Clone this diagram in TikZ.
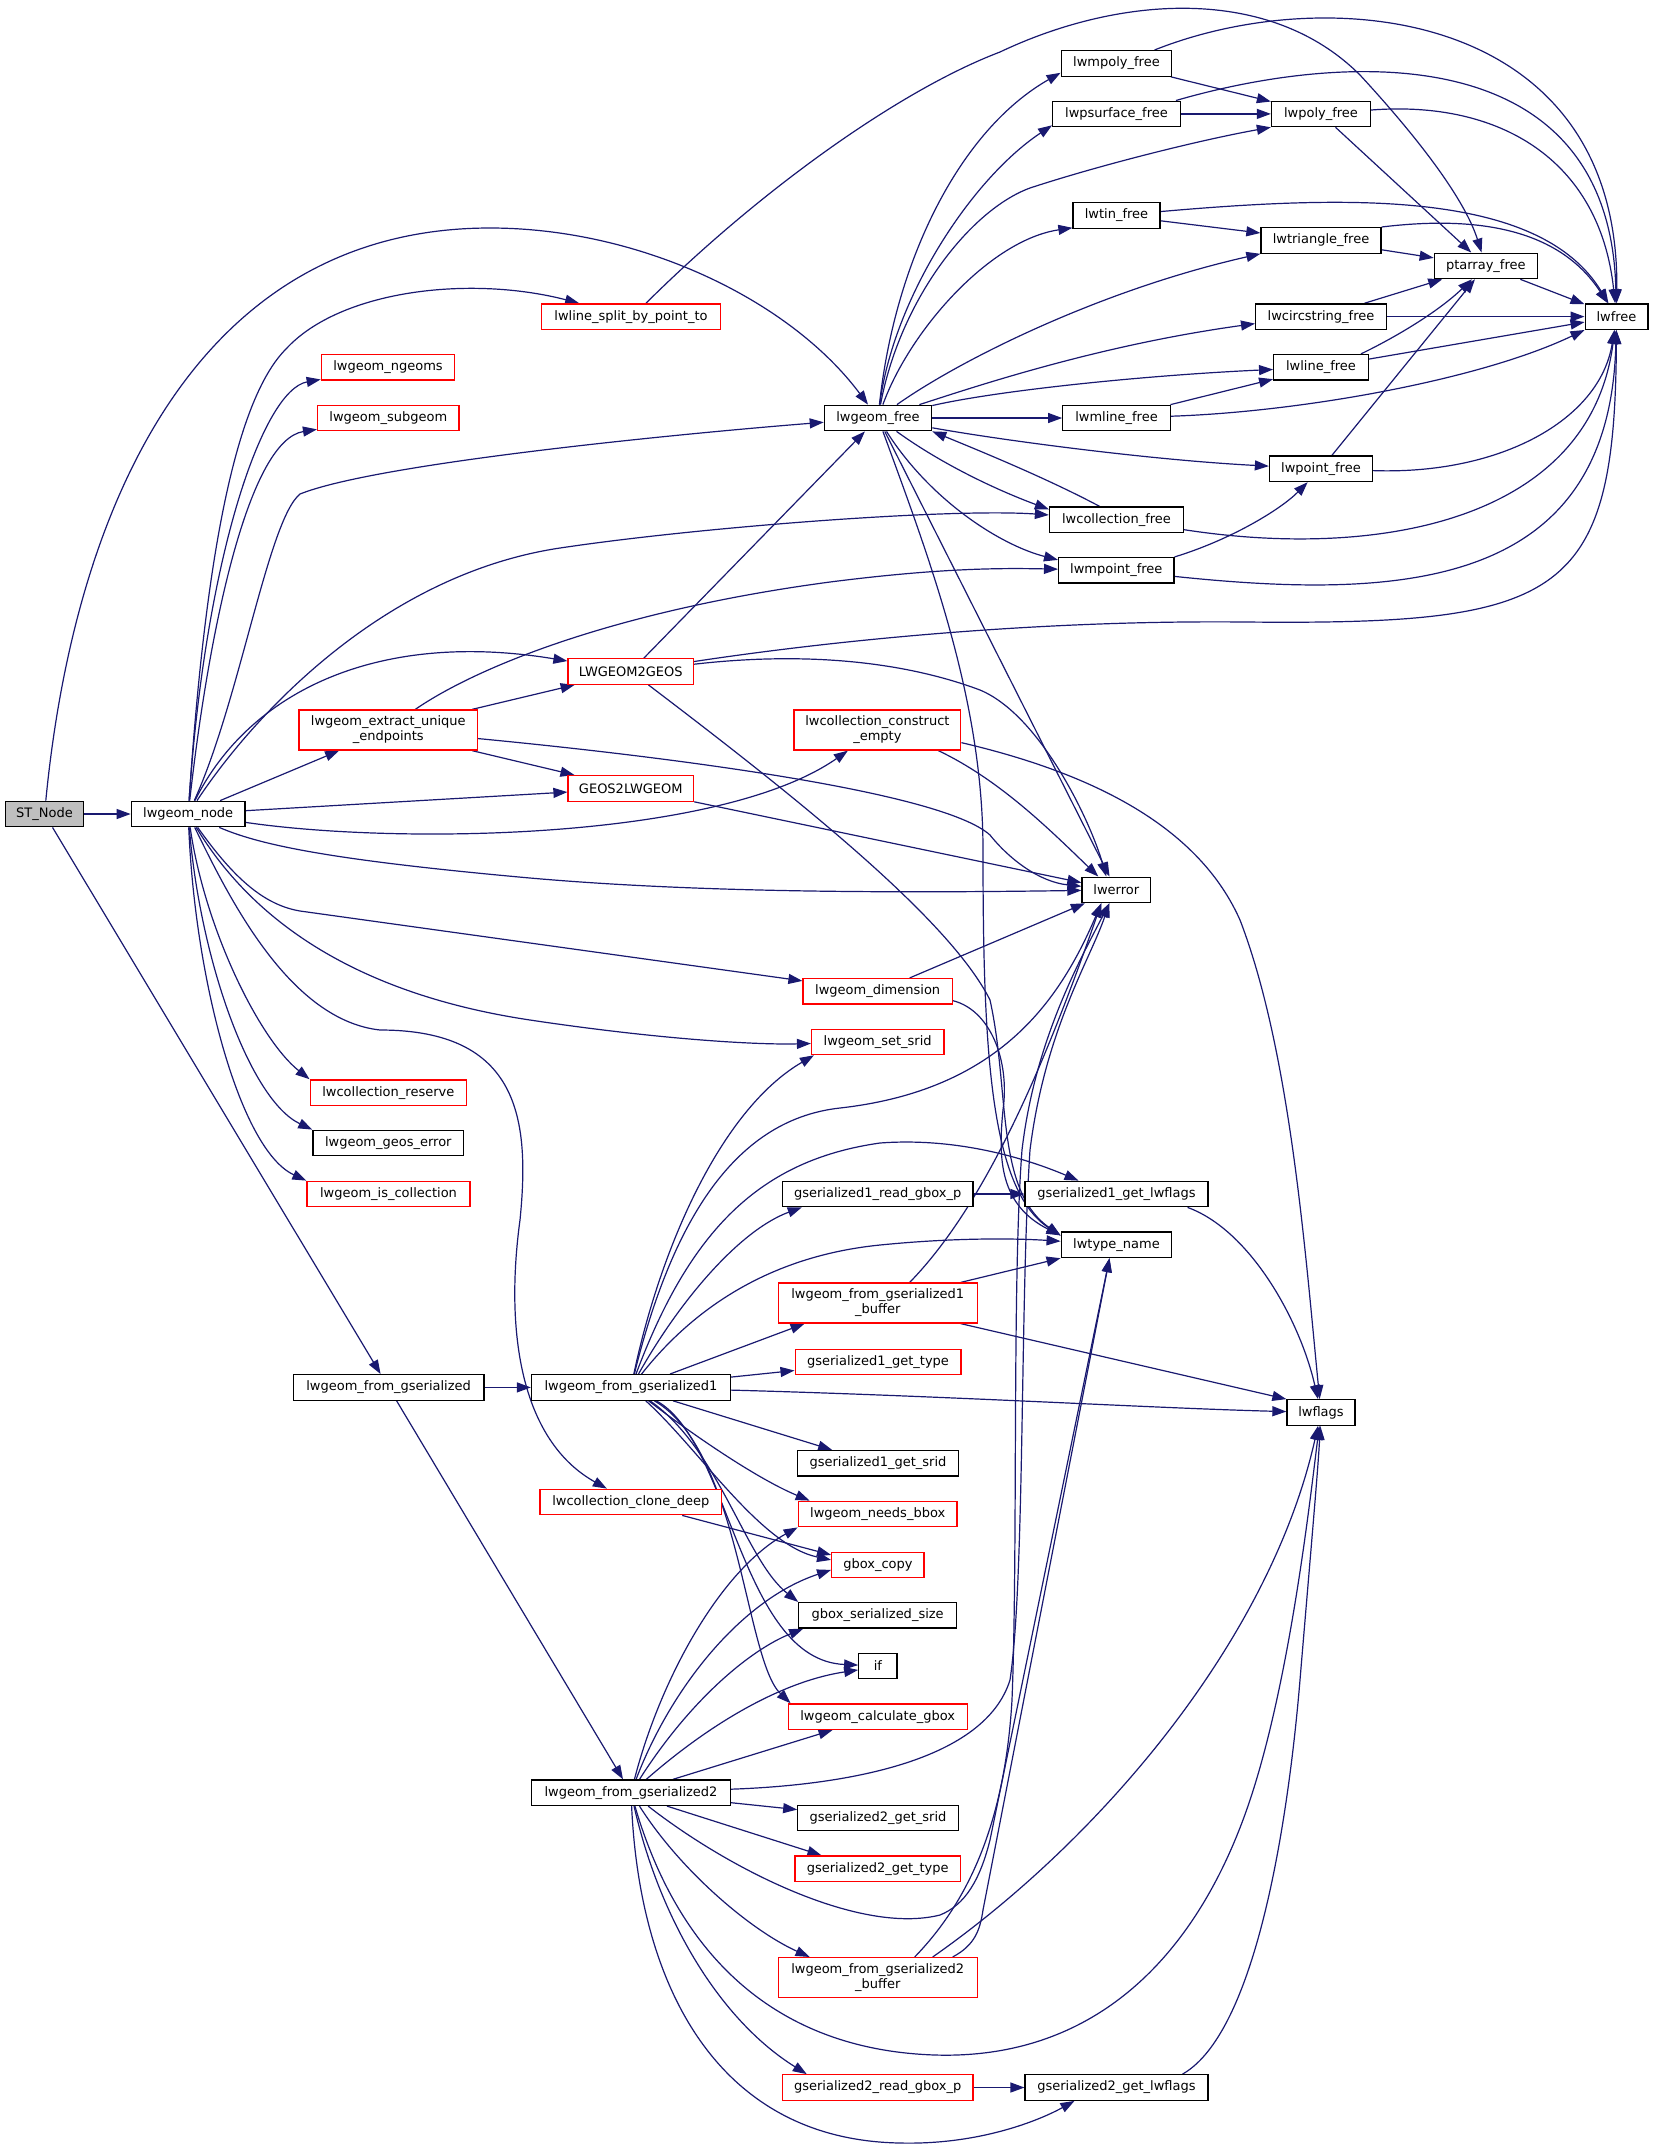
\documentclass[tikz,border=0pt]{standalone}
\usepackage{fontspec}
\setmainfont{DejaVu Sans}
\usetikzlibrary{arrows.meta,calc}
\pgfdeclarelayer{bg}
\pgfsetlayers{bg,main}
\definecolor{edgec}{RGB}{25,25,112}
\definecolor{grayfill}{RGB}{191,191,191}
\tikzset{
  nbox/.style={draw=black, fill=white, line width=0.65pt, inner sep=0pt, align=center,
    font=\fontsize{6.5pt}{7.5pt}\selectfont, minimum height=12.75pt},
  rbox/.style={nbox, draw=red},
  grbox/.style={nbox, fill=grayfill},
  edg/.style={draw=edgec, line width=0.6pt, line join=round, -{Triangle[length=7pt,width=5pt]}},
}
\begin{document}
\begin{tikzpicture}[x=0.5pt,y=-0.5pt]
\useasboundingbox (0,0) rectangle (1653,2149);
% nodes
\node[grbox, minimum width=39pt] (STNode) at (44.5,814) {ST\_Node};
\node[nbox, minimum width=56.9pt] (lwnode) at (188.2,814) {lwgeom\_node};
\node[rbox, minimum width=89.5pt] (split) at (631,316.6) {lwline\_split\_by\_point\_to};
\node[rbox, minimum width=66.7pt] (ngeoms) at (388,367.3) {lwgeom\_ngeoms};
\node[rbox, minimum width=70.7pt] (subgeom) at (388.3,418) {lwgeom\_subgeom};
\node[nbox, minimum width=53.65pt] (free) at (878,418) {lwgeom\_free};
\node[nbox, minimum width=67pt] (collfree) at (1116.5,519.7) {lwcollection\_free};
\node[nbox, minimum width=57.65pt] (mpointfree) at (1116.3,570.3) {lwmpoint\_free};
\node[rbox, minimum width=62.75pt] (l2g) at (630.8,671.5) {LWGEOM2GEOS};
\node[rbox, minimum width=89.2pt, minimum height=20pt] (extract) at (388.3,730) {lwgeom\_extract\_unique\\\_endpoints};
\node[rbox, minimum width=62.75pt] (g2l) at (630.8,788.4) {GEOS2LWGEOM};
\node[rbox, minimum width=83.4pt, minimum height=20pt] (cempty) at (877.4,730) {lwcollection\_construct\\\_empty};
\node[nbox, minimum width=34.25pt] (lwerror) at (1116.3,889.9) {lwerror};
\node[rbox, minimum width=74.65pt] (dim) at (877.7,991.3) {lwgeom\_dimension};
\node[rbox, minimum width=66.15pt] (setsrid) at (877.7,1041.9) {lwgeom\_set\_srid};
\node[rbox, minimum width=78.1pt] (reserve) at (388.3,1092.6) {lwcollection\_reserve};
\node[nbox, minimum width=75.4pt] (geoserr) at (388.3,1143) {lwgeom\_geos\_error};
\node[rbox, minimum width=81.5pt] (iscoll) at (388.5,1194) {lwgeom\_is\_collection};
\node[nbox, minimum width=95.3pt] (g1read) at (877.7,1194) {gserialized1\_read\_gbox\_p};
\node[nbox, minimum width=91.4pt] (g1flags) at (1116.5,1194) {gserialized1\_get\_lwflags};
\node[nbox, minimum width=55.3pt] (typename) at (1116.5,1244.8) {lwtype\_name};
\node[rbox, minimum width=99.5pt, minimum height=20pt] (g1buf) at (877.7,1303) {lwgeom\_from\_gserialized1\\\_buffer};
\node[rbox, minimum width=82.85pt] (g1type) at (878,1361.9) {gserialized1\_get\_type};
\node[nbox, minimum width=95.3pt] (fromgs) at (388.6,1387.4) {lwgeom\_from\_gserialized};
\node[nbox, minimum width=99.5pt] (gs1) at (631,1387.4) {lwgeom\_from\_gserialized1};
\node[nbox, minimum width=34pt] (lwflags) at (1321,1412.5) {lwflags};
\node[nbox, minimum width=80.2pt] (g1srid) at (878,1463.3) {gserialized1\_get\_srid};
\node[rbox, minimum width=90.75pt] (clone) at (630.8,1502) {lwcollection\_clone\_deep};
\node[rbox, minimum width=79.4pt] (needsbbox) at (877.7,1514) {lwgeom\_needs\_bbox};
\node[rbox, minimum width=46.2pt] (gboxcopy) at (877.9,1564.9) {gbox\_copy};
\node[nbox, minimum width=78.9pt] (gboxsize) at (877.7,1615.3) {gbox\_serialized\_size};
\node[nbox, minimum width=19.1pt] (ifn) at (877.9,1665.9) {if};
\node[rbox, minimum width=89.5pt] (calcgbox) at (877.7,1716.6) {lwgeom\_calculate\_gbox};
\node[nbox, minimum width=99.5pt] (gs2) at (631,1792.7) {lwgeom\_from\_gserialized2};
\node[nbox, minimum width=80.2pt] (g2srid) at (878,1818) {gserialized2\_get\_srid};
\node[rbox, minimum width=82.6pt] (g2type) at (877.7,1868.7) {gserialized2\_get\_type};
\node[rbox, minimum width=99.5pt, minimum height=20pt] (g2buf) at (877.7,1977.6) {lwgeom\_from\_gserialized2\\\_buffer};
\node[rbox, minimum width=95.3pt] (g2read) at (877.7,2087.5) {gserialized2\_read\_gbox\_p};
\node[nbox, minimum width=91.4pt] (g2flags) at (1116.5,2087.5) {gserialized2\_get\_lwflags};
\node[nbox, minimum width=55.3pt] (mpolyfree) at (1116.5,63.4) {lwmpoly\_free};
\node[nbox, minimum width=63.8pt] (psurffree) at (1116.5,113.9) {lwpsurface\_free};
\node[nbox, minimum width=49.5pt] (polyfree) at (1321,113.9) {lwpoly\_free};
\node[nbox, minimum width=43.5pt] (tinfree) at (1116.5,215.4) {lwtin\_free};
\node[nbox, minimum width=60pt] (trifree) at (1321,240.4) {lwtriangle\_free};
\node[nbox, minimum width=51.5pt] (ptfree) at (1485.8,265.9) {ptarray\_free};
\node[nbox, minimum width=65.35pt] (circfree) at (1321,316.6) {lwcircstring\_free};
\node[nbox, minimum width=31.35pt] (lwfree) at (1616.5,316.6) {lwfree};
\node[nbox, minimum width=47.3pt] (linefree) at (1321,367.3) {lwline\_free};
\node[nbox, minimum width=53.7pt] (mlinefree) at (1116.5,418) {lwmline\_free};
\node[nbox, minimum width=51.5pt] (pointfree) at (1321,468.8) {lwpoint\_free};

\begin{pgfonlayer}{bg}
\fill[white] (0,0) rectangle (1653,2149);
% ST_Node
\draw[edg] (STNode) -- (lwnode);
\draw[edg] (STNode) .. controls (75,500) and (200,228) .. (490,228) .. controls (640,228) and (790,300) .. (free);
\draw[edg] (STNode) -- (fromgs);
% lwgeom_node
\draw[edg] (lwnode) .. controls (205,560) and (235,400) .. (286,349) .. controls (340,290) and (470,275) .. (split);
\draw[edg] (lwnode) .. controls (205,560) and (262,390) .. (ngeoms);
\draw[edg] (lwnode) .. controls (210,620) and (250,440) .. (subgeom);
\draw[edg] (lwnode) .. controls (240,700) and (268,520) .. (300,494) .. controls (380,462) and (700,432) .. (free);
\draw[edg] (lwnode) .. controls (250,720) and (380,575) .. (560,548) .. controls (700,527) and (950,508) .. (collfree);
\draw[edg] (lwnode) .. controls (250,690) and (380,630) .. (l2g);
\draw[edg] (lwnode) -- (extract);
\draw[edg] (lwnode) -- (g2l);
\draw[edg] (lwnode) .. controls (400,845) and (720,840) .. (cempty);
\draw[edg] (lwnode) .. controls (260,845) and (330,860) .. (530,878) .. controls (700,893) and (900,893) .. (lwerror);
\draw[edg] (lwnode) .. controls (235,880) and (265,905) .. (300,911) -- (dim);
\draw[edg] (lwnode) .. controls (240,900) and (330,990) .. (530,1020) .. controls (650,1038) and (750,1045) .. (setsrid);
\draw[edg] (lwnode) .. controls (230,900) and (290,1020) .. (380,1030) .. controls (520,1030) and (530,1120) .. (520,1220) .. controls (505,1330) and (520,1440) .. (clone);
\draw[edg] (lwnode) .. controls (205,930) and (260,1040) .. (reserve.north west);
\draw[edg] (lwnode) .. controls (200,960) and (250,1100) .. (geoserr.north west);
\draw[edg] (lwnode) .. controls (195,980) and (240,1150) .. (iscoll.north west);
% extract_unique_endpoints
\draw[edg] ($(extract.north east)+(-6,0)$) -- (l2g);
\draw[edg] ($(extract.south east)+(-6,0)$) -- (g2l);
\draw[edg] (extract) .. controls (650,755) and (940,790) .. (990,835) .. controls (1010,860) and (1040,882) .. (lwerror);
\draw[edg] ($(extract.north)+(27,0)$) .. controls (480,665) and (620,610) .. (830,582) .. controls (940,568) and (1000,568) .. (mpointfree);
% LWGEOM2GEOS
\draw[edg] (l2g) -- (free);
\draw[edg] ($(l2g.east)+(0,-10)$) .. controls (850,638) and (1050,620) .. (1245,622) .. controls (1560,625) and (1615,600) .. (lwfree);
\draw[edg] (l2g) .. controls (800,652) and (900,660) .. (980,690) .. controls (1040,715) and (1090,820) .. ($(lwerror.north)+(-10,0)$);
\draw[edg] (l2g) .. controls (800,800) and (950,920) .. (990,1000) .. controls (1010,1090) and (995,1190) .. ($(typename.north west)+(0,4)$);
% GEOS2LWGEOM
\draw[edg] (g2l.south east) -- (lwerror);
% construct_empty
\draw[edg] ($(cempty.south)+(61,0)$) .. controls (1000,780) and (1050,830) .. ($(lwerror.north)+(-18,0)$);
\draw[edg] ($(cempty.south east)+(0,-8)$) .. controls (1100,775) and (1200,830) .. (1240,920) .. controls (1290,1050) and (1305,1250) .. (lwflags);
% lwline_split_by_point_to
\draw[edg] ($(split.north)+(15,0)$) .. controls (760,190) and (900,90) .. (1000,52) .. controls (1120,-5) and (1270,-15) .. (1360,75) .. controls (1420,140) and (1465,200) .. (ptfree);
% lwgeom_free
\draw[edg] (free) .. controls (895,260) and (960,130) .. ($(mpolyfree.south west)+(0,-4)$);
\draw[edg] (free) .. controls (893,300) and (970,180) .. ($(psurffree.south west)+(0,-2)$);
\draw[edg] (free) .. controls (900,300) and (970,210) .. (1030,188) .. controls (1100,165) and (1200,140) .. (polyfree.south west);
\draw[edg] (free) .. controls (910,330) and (990,240) .. ($(tinfree.south west)+(0,-1)$);
\draw[edg] (free) .. controls (960,360) and (1100,290) .. (trifree.south west);
\draw[edg] (free) .. controls (980,385) and (1100,345) .. ($(circfree.west)+(0,7)$);
\draw[edg] (free) .. controls (1000,390) and (1150,375) .. (linefree);
\draw[edg] (free) -- (mlinefree);
\draw[edg] (free) .. controls (1000,440) and (1150,460) .. (pointfree);
\draw[edg] (free) .. controls (950,470) and (1010,495) .. ($(collfree.north west)+(0,3)$);
\draw[edg] (free) .. controls (930,500) and (1000,545) .. ($(mpointfree.north west)+(0,3)$);
\draw[edg] (free) -- (lwerror);
\draw[edg] (free) .. controls (930,560) and (983,700) .. (983,850) .. controls (983,1050) and (990,1190) .. ($(typename.north west)+(0,4)$);
% lwcollection_free
\draw[edg] ($(collfree.north)+(-17,0)$) .. controls (1050,480) and (990,455) .. (free.south east);
\draw[edg] ($(collfree.east)+(0,10)$) .. controls (1380,560) and (1590,520) .. (lwfree);
% lwmpoly_free
\draw[edg] (mpolyfree) -- (polyfree);
\draw[edg] ($(mpolyfree.north)+(38,0)$) .. controls (1330,-20) and (1620,10) .. (lwfree);
% lwpsurface_free
\draw[edg] (psurffree) -- (polyfree);
\draw[edg] ($(psurffree.north east)+(-5,0)$) .. controls (1350,50) and (1610,40) .. (lwfree);
% lwpoly_free
\draw[edg] (polyfree) -- (ptfree);
\draw[edg] (polyfree) .. controls (1500,100) and (1600,160) .. (lwfree);
% lwtin_free
\draw[edg] (tinfree) -- (trifree);
\draw[edg] (tinfree) .. controls (1350,195) and (1540,190) .. (lwfree);
% lwtriangle_free
\draw[edg] (trifree) -- (ptfree);
\draw[edg] (trifree.north east) .. controls (1480,215) and (1560,230) .. (lwfree);
% ptarray_free
\draw[edg] (ptfree) -- (lwfree);
% lwcircstring_free
\draw[edg] (circfree) -- (ptfree);
\draw[edg] (circfree) -- (lwfree);
% lwline_free
\draw[edg] ($(linefree.north east)+(-8,0)$) .. controls (1400,335) and (1440,310) .. (ptfree);
\draw[edg] (linefree) -- (lwfree);
% lwmline_free
\draw[edg] (mlinefree) -- (linefree);
\draw[edg] (mlinefree) .. controls (1300,412) and (1480,380) .. (lwfree.south west);
% lwpoint_free
\draw[edg] (pointfree) -- (ptfree);
\draw[edg] (pointfree) .. controls (1500,475) and (1600,420) .. (lwfree);
% lwmpoint_free
\draw[edg] (mpointfree.north east) .. controls (1230,540) and (1280,510) .. (pointfree);
\draw[edg] (mpointfree) .. controls (1400,600) and (1610,590) .. (lwfree);
% lwgeom_dimension
\draw[edg] ($(dim.north)+(32,0)$) -- (lwerror);
\draw[edg] ($(dim.south east)+(0,-4)$) .. controls (990,1010) and (1010,1060) .. (1003,1110) .. controls (998,1160) and (1000,1205) .. ($(typename.north west)+(0,4)$);
% lwgeom_from_gserialized
\draw[edg] (fromgs) -- (gs1);
\draw[edg] (fromgs) -- (gs2);
% lwgeom_from_gserialized1
\draw[edg] (gs1) .. controls (660,1250) and (720,1110) .. ($(setsrid.south west)+(3,0)$);
\draw[edg] (gs1) .. controls (670,1230) and (730,1120) .. (840,1108) .. controls (1000,1090) and (1060,1000) .. ($(lwerror.south)+(-15,0)$);
\draw[edg] (gs1) .. controls (690,1230) and (760,1160) .. (880,1143) .. controls (960,1137) and (1030,1160) .. ($(g1flags.north)+(-38,0)$);
\draw[edg] (gs1) .. controls (680,1300) and (740,1230) .. ($(g1read.south west)+(20,0)$);
\draw[edg] (gs1) .. controls (700,1300) and (780,1255) .. (880,1245) .. controls (950,1238) and (1010,1238) .. (typename);
\draw[edg] ($(gs1.north)+(39,0)$) -- ($(g1buf.south west)+(27,0)$);
\draw[edg] (gs1) -- (g1type);
\draw[edg] (gs1) .. controls (950,1396) and (1150,1408) .. (lwflags);
\draw[edg] ($(gs1.south)+(42,0)$) -- ($(g1srid.north west)+(35,0)$);
\draw[edg] (gs1) .. controls (700,1440) and (760,1480) .. ($(needsbbox.north west)+(12,0)$);
\draw[edg] (gs1) .. controls (700,1450) and (760,1545) .. ($(gboxcopy.west)+(0,-5)$);
\draw[edg] (gs1) .. controls (720,1450) and (745,1560) .. (gboxsize.north west);
\draw[edg] (gs1) .. controls (730,1440) and (740,1660) .. (ifn);
\draw[edg] (gs1) .. controls (740,1450) and (745,1660) .. ($(calcgbox.north west)+(3,0)$);
% gserialized1_read_gbox_p / get_lwflags
\draw[edg] (g1read) -- (g1flags);
\draw[edg] ($(g1flags.south east)+(-21,0)$) .. controls (1250,1230) and (1300,1320) .. (lwflags);
% lwgeom_from_gserialized1_buffer
\draw[edg] ($(g1buf.north east)+(-17,0)$) -- (typename.south west);
\draw[edg] ($(g1buf.south east)+(-17,0)$) -- (lwflags.north west);
\draw[edg] ($(g1buf.north)+(32,0)$) .. controls (990,1200) and (1050,1050) .. ($(lwerror.south)+(-15,0)$);
% lwcollection_clone_deep
\draw[edg] ($(clone.south east)+(-40,0)$) -- ($(gboxcopy.west)+(0,-10)$);
% lwgeom_from_gserialized2
\draw[edg] (gs2) .. controls (660,1680) and (720,1570) .. (needsbbox.south west);
\draw[edg] (gs2) .. controls (670,1690) and (740,1600) .. ($(gboxcopy.west)+(0,5)$);
\draw[edg] (gs2) .. controls (690,1700) and (750,1650) .. ($(gboxsize.south west)+(5,0)$);
\draw[edg] (gs2) .. controls (720,1715) and (790,1680) .. ($(ifn.west)+(0,4)$);
\draw[edg] ($(gs2.north)+(42,0)$) -- ($(calcgbox.south west)+(45,0)$);
\draw[edg] (gs2) .. controls (850,1785) and (985,1760) .. (1010,1680) .. controls (1025,1580) and (1020,1300) .. (1030,1150) .. controls (1045,1030) and (1090,960) .. ($(lwerror.south)+(-7,0)$);
\draw[edg] ($(gs2.east)+(0,10)$) -- (g2srid);
\draw[edg] ($(gs2.south)+(36,0)$) -- ($(g2type.north west)+(27,0)$);
\draw[edg] (gs2) .. controls (730,1870) and (860,1935) .. (940,1915) .. controls (965,1905) and (980,1880) .. (990,1840) -- ($(typename.south)+(-7,0)$);
\draw[edg] (gs2) .. controls (680,1870) and (750,1930) .. ($(g2buf.north west)+(32,0)$);
\draw[edg] (gs2) .. controls (680,1960) and (780,2050) .. (935,2055) .. controls (1100,2060) and (1200,1950) .. (1250,1800) .. controls (1290,1680) and (1310,1500) .. (lwflags);
\draw[edg] (gs2) .. controls (660,1920) and (720,2020) .. ($(g2read.north west)+(25,0)$);
\draw[edg] (gs2) .. controls (640,1990) and (720,2140) .. (900,2143) .. controls (980,2145) and (1040,2120) .. ($(g2flags.south west)+(50,0)$);
% lwgeom_from_gserialized2_buffer
\draw[edg] ($(g2buf.north)+(37,0)$) .. controls (970,1900) and (1005,1820) .. (1012,1700) .. controls (1018,1550) and (1012,1280) .. (1022,1150) .. controls (1035,1040) and (1080,960) .. ($(lwerror.south)+(-7,0)$);
\draw[edg] ($(g2buf.north)+(55,0)$) .. controls (1100,1840) and (1270,1640) .. (lwflags);
\draw[edg] ($(g2buf.north)+(75,0)$) .. controls (975,1945) and (980,1930) .. (983,1910) -- ($(typename.south)+(-7,0)$);
% gserialized2_read_gbox_p / get_lwflags
\draw[edg] (g2read) -- (g2flags);
\draw[edg] ($(g2flags.north east)+(-26,0)$) .. controls (1260,2030) and (1290,1800) .. (1300,1680) .. controls (1310,1560) and (1318,1470) .. (lwflags);
\end{pgfonlayer}
\end{tikzpicture}
\end{document}
